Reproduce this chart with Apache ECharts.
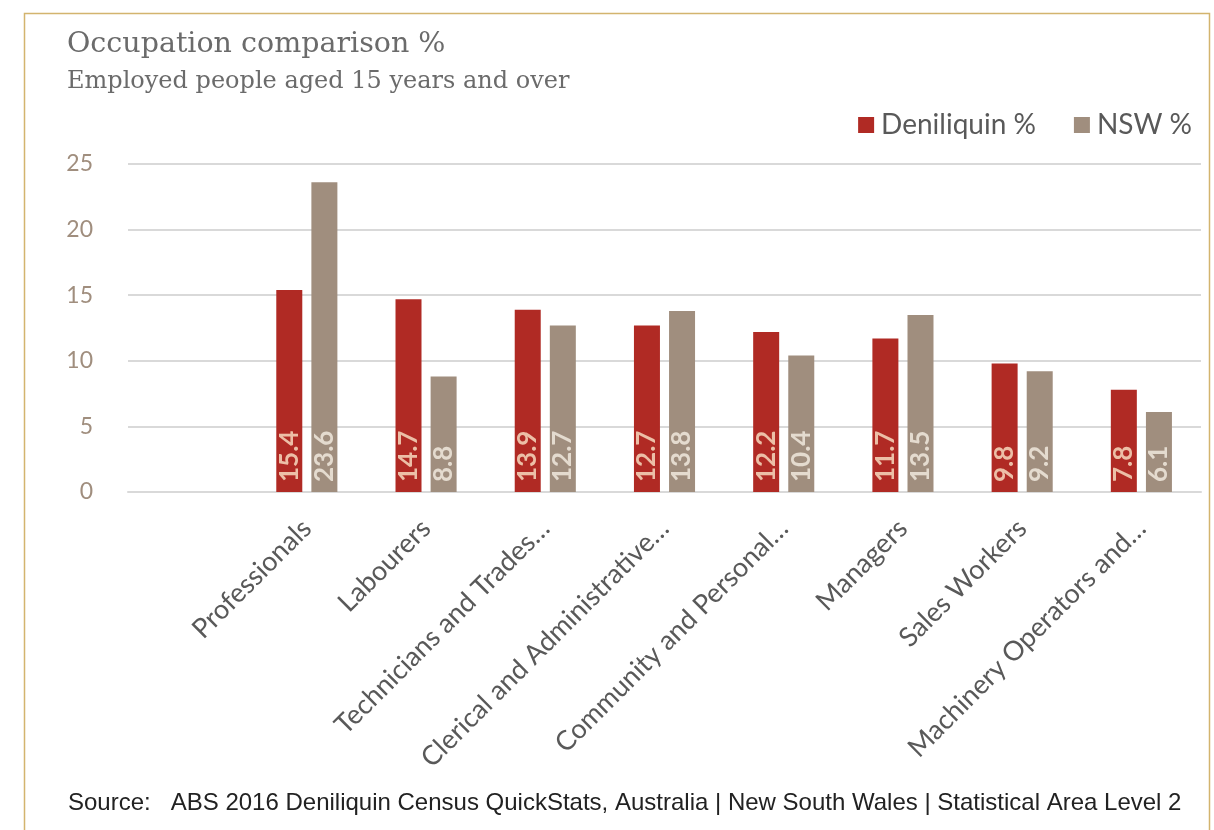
<!DOCTYPE html>
<html>
<head>
<meta charset="utf-8">
<script src="https://cdn.jsdelivr.net/npm/echarts@6/dist/echarts.min.js"></script>
<style>
html,body{margin:0;padding:0;background:#fff;}
#chart{width:1214px;height:830px;}
</style>
</head>
<body>
<div id="chart"></div>
<script>
const categories = ['', 'Professionals', 'Labourers', 'Technicians and Trades\u2026', 'Clerical and Administrative\u2026', 'Community and Personal\u2026', 'Managers', 'Sales Workers', 'Machinery Operators and\u2026'];
const deniliquin = [null, 15.4, 14.7, 13.9, 12.7, 12.2, 11.7, 9.8, 7.8];
const nsw = [null, 23.6, 8.8, 12.7, 13.8, 10.4, 13.5, 9.2, 6.1];
const seriesNames = ['Deniliquin %', 'NSW %'];
const yTicks = [0, 5, 10, 15, 20, 25];

const chart = echarts.init(document.getElementById('chart'));
const sansFont = 'Lato, "Open Sans", sans-serif';
const labelCommon = {
  show: true,
  position: 'insideBottom',
  rotate: 90,
  align: 'left',
  verticalAlign: 'middle',
  distance: 10,
  fontSize: 26,
  fontWeight: 'bold',
  fontFamily: sansFont,
  formatter: p => p.value == null ? '' : p.value.toFixed(1)
};
chart.setOption({
  backgroundColor: '#ffffff',
  animation: false,
  graphic: [
    { type: 'rect', left: 22, top: 11, shape: { width: 1185, height: 840 },
      style: { fill: 'none', stroke: '#d3b46e', lineWidth: 1.5 }, silent: true },
    { type: 'text', left: 67, top: 30,
      style: { text: 'Occupation comparison %', font: '28.5px "DejaVu Serif", serif', fill: '#6b6b6b' } },
    { type: 'text', left: 67, top: 70,
      style: { text: 'Employed people aged 15 years and over', font: '24px "DejaVu Serif", serif', fill: '#6b6b6b' } },
    { type: 'text', left: 68, top: 791,
      style: { text: 'Source:   ABS 2016 Deniliquin Census QuickStats, Australia | New South Wales | Statistical Area Level 2', font: '24px "Liberation Sans Narrow", "Arial Narrow", "Liberation Sans", sans-serif', fill: '#222222' } }
  ],
  legend: {
    data: seriesNames,
    right: 17,
    top: 106,
    itemWidth: 16,
    itemHeight: 16,
    itemGap: 38,
    icon: 'rect',
    textStyle: { fontSize: 28, color: '#595959', fontFamily: sansFont, padding: [0, 0, 0, 2] }
  },
  grid: { left: 128, right: 13, top: 164, bottom: 338 },
  xAxis: {
    type: 'category',
    data: categories,
    axisLine: { show: true, lineStyle: { color: '#d9d9d9', width: 2 } },
    axisTick: { show: false },
    axisLabel: {
      interval: 0,
      rotate: 45,
      margin: 32,
      fontSize: 27,
      color: '#595959',
      fontFamily: sansFont
    }
  },
  yAxis: {
    type: 'value',
    min: 0,
    max: 25,
    interval: 5,
    axisLine: { show: false },
    axisTick: { show: false },
    splitLine: { lineStyle: { color: '#d9d9d9', width: 2 } },
    axisLabel: {
      margin: 35,
      fontSize: 23,
      color: '#a08e7e',
      fontFamily: sansFont,
      formatter: v => yTicks.includes(v) ? String(v) : ''
    }
  },
  series: [
    { name: seriesNames[0], type: 'bar', data: deniliquin, barWidth: 26, barGap: '35%',
      itemStyle: { color: '#b02a24' },
      label: Object.assign({}, labelCommon, { color: '#ecbfa7' }) },
    { name: seriesNames[1], type: 'bar', data: nsw, barWidth: 26,
      itemStyle: { color: '#a08e7e' },
      label: Object.assign({}, labelCommon, { color: '#e4dbcf' }) }
  ]
});
</script>
</body>
</html>
